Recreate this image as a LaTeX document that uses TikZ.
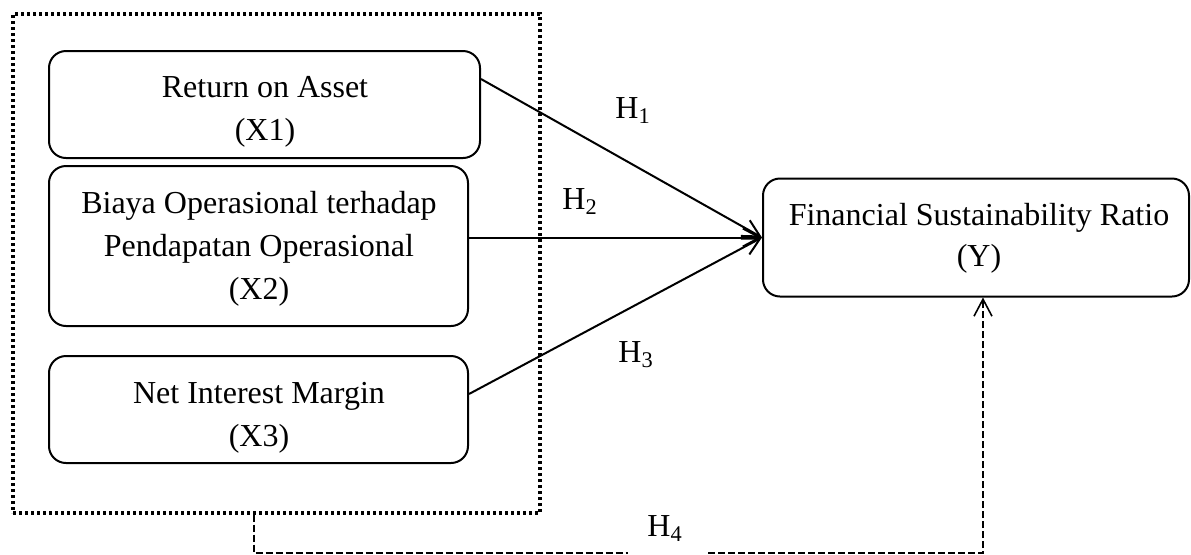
\documentclass[tikz,border=0pt]{standalone}
\usepackage{fontspec}
\setmainfont{Liberation Serif}
\usetikzlibrary{arrows.meta}
\begin{document}
\begin{tikzpicture}[x=0.5pt,y=-0.5pt,
  box/.style={draw, line width=1pt, rounded corners=8.5pt, inner sep=0pt},
  txt/.style={align=center, inner sep=0pt, anchor=north, font=\fontsize{16}{21.5}\selectfont},
  conn/.style={line width=1pt, -{Straight Barb[length=8.5pt,width=9pt]}},
  grpbox/.style={draw, line width=1.6pt, dash pattern=on 1.6pt off 1.4pt, inner sep=0pt},
  dashconn/.style={line width=0.8pt, dash pattern=on 3.5pt off 1.5pt},
  hlabel/.style={font=\fontsize{16}{19}\selectfont, inner sep=0pt, anchor=base west}
]
\useasboundingbox (0,0) rectangle (1191,554);

\node[grpbox, minimum width=263.5pt, minimum height=249.5pt] (grp) at (276.5,263.5) {};

\node[box, minimum width=215.5pt, minimum height=53.5pt] (x1) at (264.5,104.5) {};
\node[txt] (x1t) at (265,75.5) {Return on Asset\\(X1)};
\node[box, minimum width=209.5pt, minimum height=80pt] (x2) at (258.5,246) {};
\node[txt] (x2t) at (259,191) {Biaya Operasional terhadap\\Pendapatan Operasional\\(X2)};
\node[box, minimum width=209.5pt, minimum height=53.5pt] (x3) at (258.5,409.5) {};
\node[txt] (x3t) at (259,381.5) {Net Interest Margin\\(X3)};
\node[box, minimum width=213pt, minimum height=59pt] (y) at (976,237.5) {};
\node[txt, font=\fontsize{16}{20.5}\selectfont] (yt) at (979,202.5) {Financial Sustainability Ratio\\(Y)};

\draw[conn] ([yshift=12.75pt]x1.east) -- (y.west);
\draw[conn] (x2.east |- y.west) -- (y.west);
\draw[conn] ([yshift=7.75pt]x3.east) -- (y.west);

\coordinate (d1) at (254,553);
\coordinate (gapL) at (628,553);
\coordinate (gapR) at (708,553);
\coordinate (d2) at (983,553);
\draw[dashconn] (d1 |- grp.south) -- (d1) -- (gapL);
\draw[dashconn, -{Straight Barb[length=8.5pt,width=9pt]}] (gapR) -- (d2) -- (d2 |- y.south);

\node[hlabel] (h1) at (615,118) {H\textsubscript{1}};
\node[hlabel] (h2) at (562,209) {H\textsubscript{2}};
\node[hlabel] (h3) at (618,362) {H\textsubscript{3}};
\node[hlabel] (h4) at (647,536) {H\textsubscript{4}};
\end{tikzpicture}
\end{document}
